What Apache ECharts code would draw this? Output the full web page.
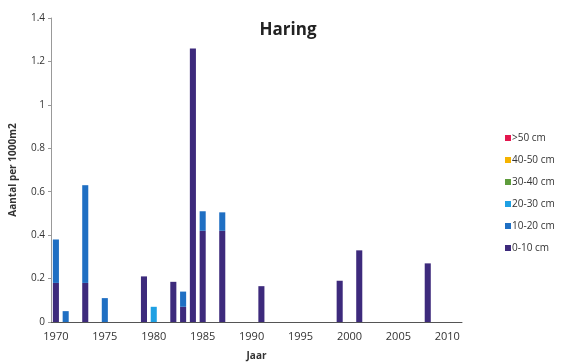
<!DOCTYPE html>
<html><head><meta charset="utf-8">
<script src="https://cdn.jsdelivr.net/npm/echarts@6/dist/echarts.min.js"></script>
<style>html,body{margin:0;padding:0;background:#fff}#c{width:567px;height:363px}</style>
</head><body><div id="c"></div>
<script>
var years = [];
for (var y = 1970; y <= 2011; y++) years.push(String(y));
var seriesNames = [">50 cm", "40-50 cm", "30-40 cm", "20-30 cm", "10-20 cm", "0-10 cm"];
// values keyed by year
var v0_10  = {1970:0.18, 1973:0.18, 1979:0.21, 1982:0.185, 1983:0.07, 1984:1.26, 1985:0.42, 1987:0.42, 1991:0.165, 1999:0.19, 2001:0.33, 2008:0.27};
var v10_20 = {1970:0.20, 1971:0.05, 1973:0.45, 1975:0.11, 1983:0.07, 1985:0.09, 1987:0.085};
var v20_30 = {1980:0.07};
var v30_40 = {};
var v40_50 = {};
var v50    = {};
var colors = {"0-10 cm":"#3d2a7c","10-20 cm":"#1f6fc3","20-30 cm":"#1fa0e3","30-40 cm":"#5e9c3c","40-50 cm":"#f5b300",">50 cm":"#e3174e"};
var yTicks = [0,0.2,0.4,0.6,0.8,1,1.2,1.4];

function arr(m){ return years.map(function(y){ return m[y] !== undefined ? m[y] : null; }); }
var dataMap = {"0-10 cm":v0_10,"10-20 cm":v10_20,"20-30 cm":v20_30,"30-40 cm":v30_40,"40-50 cm":v40_50,">50 cm":v50};
var stackOrder = ["0-10 cm","10-20 cm","20-30 cm","30-40 cm","40-50 cm",">50 cm"];
var series = stackOrder.map(function(n){
  return {name:n,type:'bar',stack:'a',data:arr(dataMap[n]),barWidth:'62%',itemStyle:{color:colors[n]}};
});
var font = "'Open Sans', 'DejaVu Sans', sans-serif";
var chart = echarts.init(document.getElementById('c'));
chart.setOption({
  animation:false,
  textStyle:{fontFamily:font},
  title:{text:'Haring',left:283,top:17,textAlign:'center',textStyle:{fontSize:17,fontWeight:'bold',color:'#222',fontFamily:font}},
  legend:{data:seriesNames,orient:'vertical',left:500,top:128,itemWidth:6,itemHeight:6,itemGap:12,icon:'rect',
    textStyle:{fontSize:10,color:'#333',fontFamily:font,padding:[0,0,0,-4]}},
  grid:{left:51,right:105,top:18,bottom:41,containLabel:false,outerBoundsMode:'none'},
  xAxis:{type:'category',data:years,boundaryGap:true,name:'Jaar',nameLocation:'middle',nameGap:29,
    nameTextStyle:{fontSize:10,fontWeight:'bold',color:'#333',padding:[0,0,0,0]},
    axisLine:{lineStyle:{color:'#555'}},
    axisTick:{alignWithLabel:true,length:3,inside:false,interval:function(i,v){return (+v)%5===0;},lineStyle:{color:'#888'}},
    axisLabel:{fontSize:11,color:'#333',margin:9,interval:function(i,v){return (+v)%5===0;}}},
  yAxis:{type:'value',min:0,max:1.4,interval:0.2,name:'Aantal per 1000m2',nameLocation:'middle',nameGap:33,
    nameTextStyle:{fontSize:10,fontWeight:'bold',color:'#333'},
    axisLine:{show:true,lineStyle:{color:'#999'}},
    axisTick:{show:true,length:3,lineStyle:{color:'#999'}},
    splitLine:{show:false},
    axisLabel:{fontSize:10,color:'#333',margin:6,formatter:function(v){return yTicks.indexOf(Math.round(v*10)/10)>=0?String(Math.round(v*10)/10):'';}}},
  series:series
});
</script></body></html>
